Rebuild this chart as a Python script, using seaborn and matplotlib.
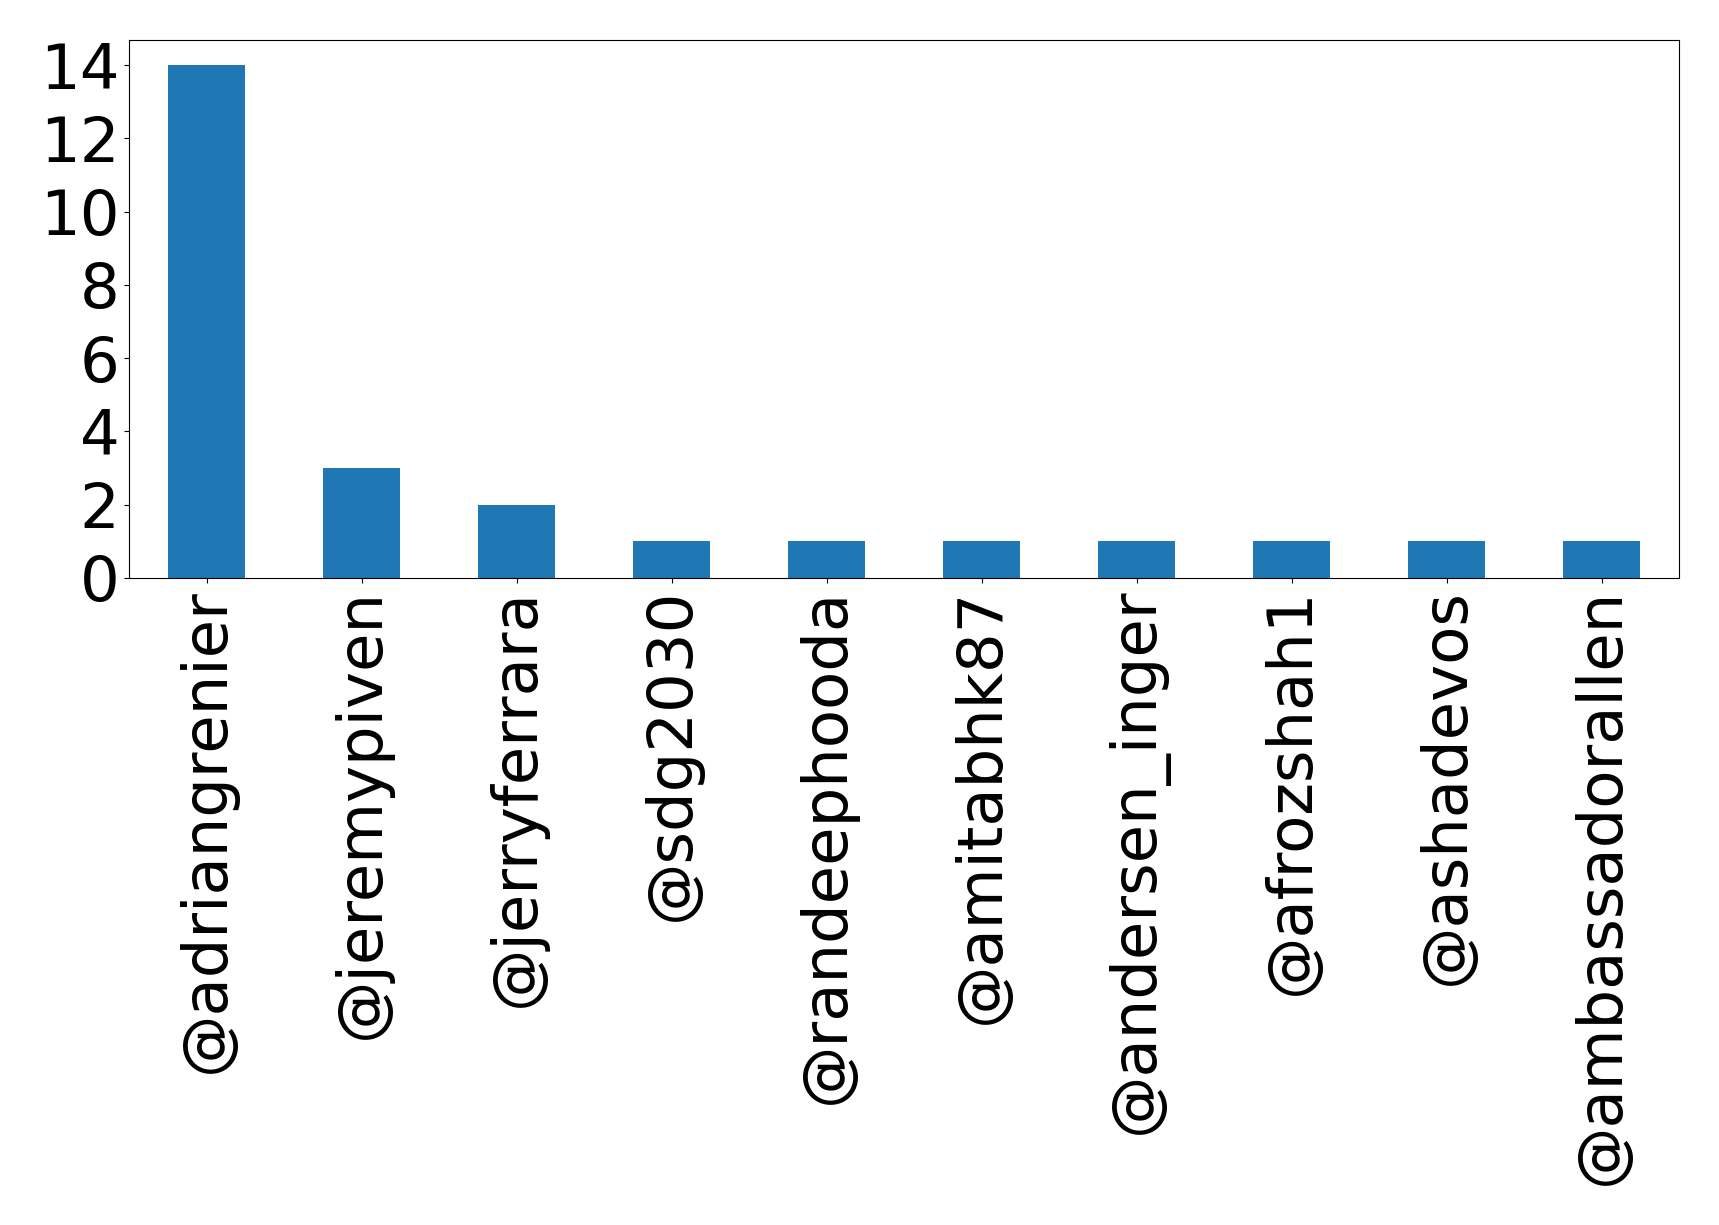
import pandas as pd
import matplotlib
matplotlib.use("Agg")
import matplotlib.pyplot as plt
import seaborn as sns

# Mention counts per account
accounts = ['@adriangrenier', '@jeremypiven', '@jerryferrara', '@sdg2030',
            '@randeephooda', '@amitabhk87', '@andersen_inger', '@afrozshah1',
            '@ashadevos', '@ambassadorallen']
counts = [14, 3, 2, 1, 1, 1, 1, 1, 1, 1]

df = pd.DataFrame({'account': accounts, 'count': counts})

fig = plt.figure(figsize=(17.19, 12.25), dpi=100)
ax = fig.add_axes([129 / 1719, 1 - 578 / 1225, (1679 - 129) / 1719, (578 - 39.5) / 1225])

sns.barplot(x='account', y='count', data=df, color='#1f77b4', saturation=1,
            width=0.5, ax=ax)

ax.set_xlabel('')
ax.set_ylabel('')
ax.set_xlim(-0.5, len(accounts) - 0.5)
ax.set_ylim(0, 14.7)
ax.set_yticks(range(0, 15, 2))
ax.tick_params(axis='both', labelsize=45)
plt.setp(ax.get_xticklabels(), rotation=90)

fig.savefig('out.png', dpi=100)
